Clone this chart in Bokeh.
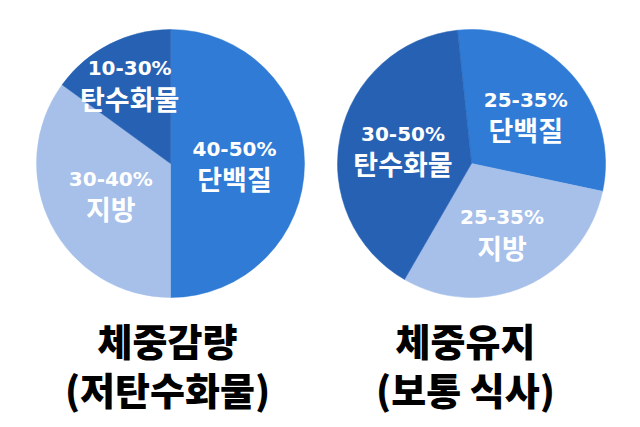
import math
from bokeh.plotting import figure
from bokeh.models import Range1d
from bokeh.core.properties import value
from bokeh.embed import file_html
from bokeh.resources import INLINE

# ---- data ----
nutrients = ["단백질", "지방", "탄수화물"]
loss_shares = [50, 35, 15]            # estimated slice shares (%), left pie
loss_labels = ["40-50%", "30-40%", "10-30%"]
keep_shares = [30, 30, 40]            # estimated slice shares (%), right pie
keep_labels = ["25-35%", "25-35%", "30-50%"]
titles_loss = ["체중감량", "(저탄수화물)"]
titles_keep = ["체중유지", "(보통 식사)"]

# ---- style ----
W, H = 632, 419
colors = ["#2f7bd5", "#a6c0ea", "#2761b4"]
KR = value("Noto Sans CJK KR")
KR_BLACK = value("'Noto Sans CJK KR Black', 'Noto Sans CJK KR'")
NUM = value("DejaVu Sans")


def X(px):
    return px


def Y(py):
    return H - py


p = figure(width=W, height=H, x_range=Range1d(0, W), y_range=Range1d(0, H),
           output_backend="svg", toolbar_location=None, min_border=0)
p.axis.visible = False
p.grid.visible = False
p.outline_line_color = None
p.background_fill_color = "white"
p.border_fill_color = "white"


def pie(cx, cy, r, shares, pct_labels, start_deg, label_r):
    start = math.radians(start_deg)
    for i, s in enumerate(shares):
        span = s / 100.0 * 2 * math.pi
        end = start - span  # clockwise
        p.wedge(x=cx, y=cy, radius=r, radius_units="screen",
                start_angle=end, end_angle=start, direction="anticlock",
                fill_color=colors[i], line_color=colors[i], line_width=0.5)
        mid = (start + end) / 2
        lx = cx + label_r[i] * math.cos(mid)
        ly = cy + label_r[i] * math.sin(mid)
        p.text(x=[lx], y=[ly + 15], text=[pct_labels[i]], text_font=NUM,
               text_font_style="bold", text_font_size="20px", text_color="white",
               text_align="center", text_baseline="middle")
        p.text(x=[lx], y=[ly - 15], text=[nutrients[i]], text_font=KR,
               text_font_style="bold", text_font_size="27px", text_color="white",
               text_align="center", text_baseline="middle")
        start = end


pie(X(170), Y(163), 134, loss_shares, loss_labels, 90, [64, 67, 90])
pie(X(471), Y(163), 134, keep_shares, keep_labels, 96, [73, 75, 70])

for cx, tl in ((X(167), titles_loss), (X(465), titles_keep)):
    p.text(x=[cx], y=[Y(339)], text=[tl[0]], text_font=KR_BLACK,
           text_font_style="normal", text_font_size="38px", text_color="black",
           text_align="center", text_baseline="middle")
    p.text(x=[cx], y=[Y(388)], text=[tl[1]], text_font=KR_BLACK,
           text_font_style="normal", text_font_size="38px", text_color="black",
           text_align="center", text_baseline="middle")

open("out.html", "w").write(file_html(p, INLINE))
